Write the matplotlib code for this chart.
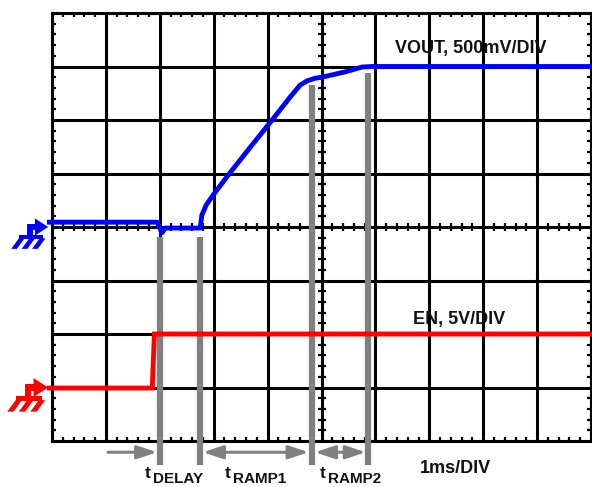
import numpy as np
import matplotlib
matplotlib.use("Agg")
import matplotlib.pyplot as plt
import matplotlib.transforms as mtransforms
from matplotlib.patches import Polygon
from matplotlib.ticker import MultipleLocator

plt.rcParams['font.family'] = ['Liberation Sans', 'DejaVu Sans']
plt.rcParams['font.weight'] = 'bold'

# traces, in screen divisions (x: 1ms/div, y: 8 divisions)
vout_t = [-0.05, 1.95, 2.04, 2.10, 2.75, 2.78, 2.86, 3.02, 3.30, 3.67, 4.10, 4.42,
          4.60, 4.73, 4.88, 5.01, 5.44, 5.75, 5.94, 10.0]
vout_y = [4.09, 4.09, 3.89, 3.98, 3.98, 4.22, 4.41, 4.64, 5.01, 5.48, 6.02, 6.43,
          6.65, 6.73, 6.78, 6.80, 6.90, 6.99, 7.00, 7.00]
en_t = [-0.05, 1.86, 1.90, 10.0]
en_y = [0.99, 0.99, 2.00, 2.00]

# timing markers
marker_t = [2.01, 2.74, 4.82, 5.87]
marker_top = [3.81, 3.81, 6.65, 6.88]
marker_bottom = -0.45
spans = [(1.04, 1.95, '-|>'), (2.80, 4.76, '<|-|>'), (4.88, 5.82, '<|-|>')]
span_y = -0.21
span_labels = [('t', 'DELAY', 1.72), ('t', 'RAMP1', 3.21), ('t', 'RAMP2', 4.97)]

fig = plt.figure(figsize=(5.92, 4.87), dpi=100)
ax = fig.add_axes([52 / 592, 46 / 487, 539 / 592, 428 / 487])
ax.set_xlim(0, 10)
ax.set_ylim(0, 8)

# graticule
ax.xaxis.set_major_locator(MultipleLocator(1))
ax.yaxis.set_major_locator(MultipleLocator(1))
ax.xaxis.set_minor_locator(MultipleLocator(0.2))
ax.yaxis.set_minor_locator(MultipleLocator(0.2))
ax.grid(True, which='major', color='black', lw=2.2, zorder=1)
ax.set_axisbelow(True)
ax.tick_params(which='major', length=0, labelbottom=False, labelleft=False)
ax.tick_params(which='minor', direction='in', length=3, width=1.6,
               top=True, right=True, color='black')
for s in ax.spines.values():
    s.set_linewidth(2.2)

minor = np.arange(1, 50) * 0.2
minor_x = minor[(minor < 10) & (np.abs(minor - np.round(minor)) > 0.01)]
minor_y = minor_x[minor_x < 8]
ax.plot(np.full(len(minor_y), 5.0), minor_y, ls='none', marker='_', ms=6,
        mew=1.6, color='black', zorder=1.5)
ax.plot(minor_x, np.full(len(minor_x), 4.0), ls='none', marker='|', ms=6,
        mew=1.6, color='black', zorder=1.5)

# gray timing bars
ax.vlines(marker_t, marker_bottom, marker_top, colors='#808080', lw=4.5,
          zorder=3, clip_on=False, capstyle='butt')

# traces
ax.plot(vout_t, vout_y, color='#0000ff', lw=3.5, zorder=4, clip_on=False,
        solid_joinstyle='round')
ax.plot(en_t, en_y, color='#ff0000', lw=3.5, zorder=4, clip_on=False,
        solid_joinstyle='miter')

# arrows
for a, b, style in spans:
    ax.annotate('', xy=(b, span_y), xytext=(a, span_y), annotation_clip=False,
                arrowprops=dict(arrowstyle=style + ',head_length=1.2,head_width=0.4',
                                color='#808080', lw=2.2, shrinkA=0, shrinkB=0,
                                mutation_scale=10))

for t, sub, x in span_labels:
    ax.text(x, -0.70, t, fontsize=12.5, fontweight='bold', ha='left', va='baseline',
            color='#111111', clip_on=False)
    ax.text(x + 0.15, -0.79, sub, fontsize=11, fontweight='bold', ha='left',
            va='baseline', color='#111111', clip_on=False)

ax.text(7.76, 7.26, 'VOUT, 500mV/DIV', fontsize=13, fontweight='bold',
        ha='center', va='baseline', color='#111111')
ax.text(7.56, 2.18, 'EN, 5V/DIV', fontsize=13, fontweight='bold',
        ha='center', va='baseline', color='#111111')
ax.text(7.48, -0.59, '1ms/DIV', fontsize=13, fontweight='bold',
        ha='center', va='baseline', color='#111111', clip_on=False)


# ground reference symbols (pixel offsets from arrow tip, y down)
def ground(y_level, color, scale):
    trans = (mtransforms.Affine2D().scale(scale, -scale)
             + mtransforms.ScaledTranslation(-0.07, y_level, ax.transData))
    shapes = [
        [(0, 0), (-14, -9), (-14, 9)],
        [(-22, -3), (-13, -3), (-13, 3), (-22, 3)],
        [(-22, -3), (-16, -3), (-16, 13), (-22, 13)],
        [(-31, 8), (-6, 8), (-6, 13), (-31, 13)],
    ]
    for tx in (-31, -20, -9):
        shapes.append([(tx, 12), (tx + 6, 12), (tx - 2, 23), (tx - 8, 23)])
    for pts in shapes:
        ax.add_patch(Polygon(pts, closed=True, facecolor=color, edgecolor='none',
                             transform=trans, clip_on=False, zorder=5))


ground(4.0, '#0000ff', 0.95)
ground(1.0, '#ff0000', 1.05)

fig.savefig('out.png', dpi=100)
